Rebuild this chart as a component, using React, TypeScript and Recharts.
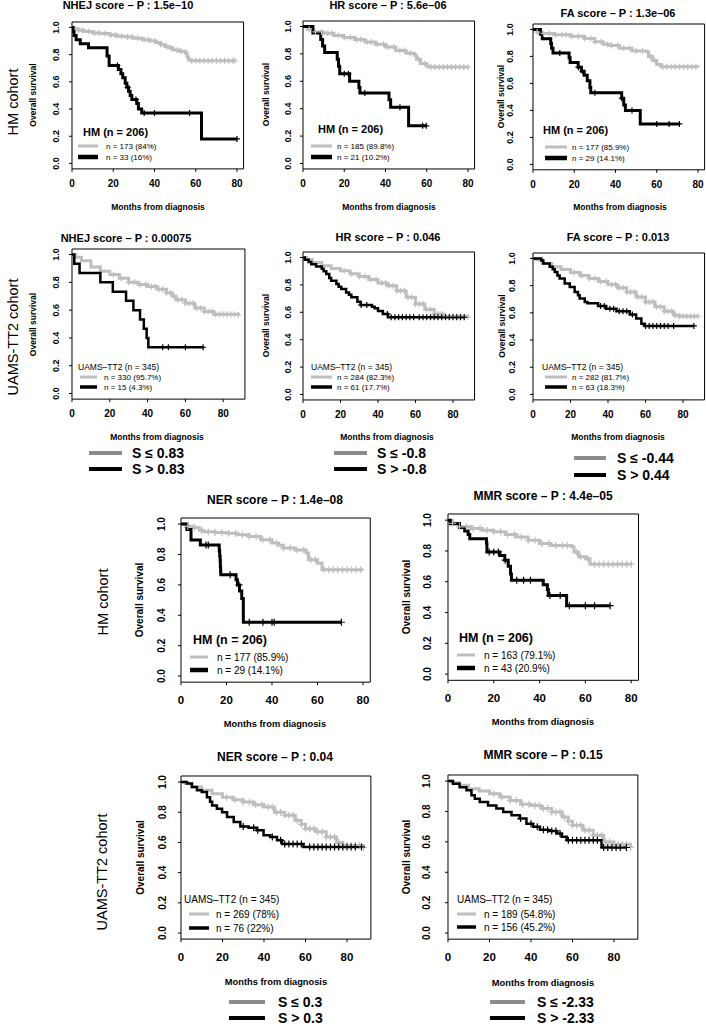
import React from "react";
import { LineChart, Line, XAxis, YAxis, ReferenceArea } from "recharts";

type Pt = [number, number];

const xTicks = [0, 20, 40, 60, 80];
const yTicks = [0, 0.2, 0.4, 0.6, 0.8, 1];

// ---- HM cohort ----
const nhejHmLow: Pt[] = [[0, 1], [1, 0.99], [3, 0.98], [6, 0.97], [10, 0.96], [14, 0.955], [18, 0.945], [22, 0.935], [26, 0.93], [30, 0.92], [34, 0.91], [38, 0.9], [41, 0.89], [43, 0.875], [45, 0.86], [47, 0.85], [49, 0.835], [52, 0.825], [55, 0.81], [55.8, 0.785], [56.5, 0.76], [58, 0.755], [79, 0.755]];
const nhejHmHigh: Pt[] = [[0, 1], [0.5, 0.97], [1, 0.94], [2, 0.91], [4, 0.88], [8, 0.85], [17, 0.79], [18, 0.72], [22.5, 0.69], [23.7, 0.66], [24.6, 0.63], [25.8, 0.59], [26.6, 0.56], [27.4, 0.53], [28.2, 0.5], [29, 0.47], [31.4, 0.44], [32.2, 0.4], [33.8, 0.37], [62.8, 0.18], [80, 0.18]];
const nhejHmLowCens = [3, 5, 8, 11, 13, 16, 19, 21, 24, 27, 29, 32, 35, 37, 40, 43, 46, 48, 51, 53, 58, 60, 62, 64, 66, 68, 70, 72, 74, 76, 78, 79];
const nhejHmHighCens = [22, 27, 31, 35, 40, 57, 80];

const hrHmLow: Pt[] = [[0, 1], [2, 0.98], [5, 0.96], [10, 0.95], [15, 0.935], [20, 0.92], [25, 0.905], [30, 0.886], [35, 0.87], [40, 0.85], [45, 0.825], [50, 0.805], [54, 0.79], [55, 0.76], [57, 0.73], [60, 0.71], [61, 0.705], [80, 0.705]];
const hrHmHigh: Pt[] = [[0, 1], [4.8, 0.952], [8.6, 0.905], [9.5, 0.857], [10.5, 0.81], [16.6, 0.76], [17.2, 0.71], [17.8, 0.655], [22.6, 0.6], [27.1, 0.555], [27.6, 0.515], [41.7, 0.465], [42.5, 0.41], [51.2, 0.275], [59.8, 0.275]];
const hrHmLowCens = [3, 6, 9, 12, 14, 17, 20, 23, 26, 28, 31, 33, 36, 39, 41, 44, 47, 49, 52, 56, 59, 62, 64, 66, 68, 70, 72, 74, 76, 78, 80];
const hrHmHighCens = [20, 22, 30, 47, 58, 59.8];

const faHmLow: Pt[] = [[0, 1], [2, 0.98], [4, 0.97], [10, 0.96], [18, 0.95], [25, 0.933], [30, 0.908], [34, 0.89], [37, 0.88], [42, 0.86], [48, 0.84], [55, 0.834], [56, 0.8], [58, 0.77], [60, 0.74], [62, 0.723], [80, 0.72]];
const faHmHigh: Pt[] = [[0, 1], [3.6, 0.965], [4.5, 0.93], [8.6, 0.895], [9, 0.86], [9.7, 0.825], [17.5, 0.79], [18, 0.755], [21.9, 0.72], [23.5, 0.69], [24.8, 0.66], [26.3, 0.62], [27.6, 0.57], [28, 0.53], [43, 0.49], [44, 0.44], [44.8, 0.4], [52, 0.3], [71, 0.3]];
const faHmLowCens = [2, 5, 8, 11, 14, 16, 19, 22, 25, 28, 30, 33, 36, 38, 41, 44, 47, 50, 53, 57, 59, 63, 65, 67, 69, 71, 73, 75, 77, 79];
const faHmHighCens = [13, 22, 24, 30, 43, 48, 60, 66, 71];

const nerHmLow: Pt[] = [[0, 1], [2, 0.985], [5, 0.978], [8, 0.96], [10, 0.95], [15, 0.945], [20, 0.94], [25, 0.93], [30, 0.918], [35, 0.897], [40, 0.875], [43, 0.86], [45, 0.842], [50, 0.83], [55, 0.81], [56, 0.765], [60, 0.743], [62, 0.7], [80, 0.7]];
const nerHmHigh: Pt[] = [[0, 1], [2.6, 0.965], [4.4, 0.896], [8.5, 0.862], [16.8, 0.827], [17, 0.79], [17.2, 0.76], [17.3, 0.72], [17.4, 0.69], [17.5, 0.666], [24.2, 0.633], [24.8, 0.6], [25.7, 0.56], [26.7, 0.51], [27.4, 0.354], [70.5, 0.354]];
const nerHmLowCens = [3, 6, 9, 12, 15, 18, 21, 24, 27, 30, 33, 36, 39, 42, 45, 48, 51, 54, 57, 59, 63, 65, 67, 69, 71, 73, 75, 77, 79];
const nerHmHighCens = [11, 12, 21.6, 25.5, 30, 36, 40, 41, 70.5];

const mmrHmLow: Pt[] = [[0, 1], [2, 0.98], [5, 0.957], [10, 0.946], [15, 0.935], [20, 0.924], [25, 0.907], [30, 0.89], [35, 0.87], [40, 0.848], [45, 0.835], [54, 0.827], [55, 0.794], [57, 0.762], [60, 0.75], [62, 0.714], [80, 0.714]];
const mmrHmHigh: Pt[] = [[0, 1], [1, 0.977], [5, 0.953], [7.3, 0.93], [8.8, 0.907], [9.5, 0.88], [16.8, 0.85], [17, 0.794], [22.6, 0.77], [24.8, 0.74], [26.3, 0.7], [27.3, 0.65], [27.7, 0.61], [41.6, 0.58], [43.4, 0.55], [43.8, 0.51], [51.8, 0.445], [70.8, 0.445]];
const mmrHmLowCens = [2, 5, 8, 11, 14, 17, 20, 23, 26, 29, 32, 35, 38, 41, 44, 47, 50, 52, 56, 58, 61, 64, 66, 68, 70, 72, 74, 76, 78, 80];
const mmrHmHighCens = [18, 20, 22, 25, 30, 33, 36, 44.5, 49, 53, 60, 64, 70.8];

// ---- UAMS-TT2 cohort ----
const uamsLowCens = [22, 26, 30, 33, 36, 39, 42, 44, 46, 48, 50, 52, 54, 56, 58, 60, 62, 64, 66, 68, 70, 72, 74, 76, 78, 80, 82, 84, 86, 88];

const nhejUaLow: Pt[] = [[0, 1], [2, 0.98], [5, 0.955], [10, 0.91], [15, 0.88], [20, 0.856], [25, 0.83], [30, 0.8], [35, 0.785], [40, 0.77], [45, 0.75], [50, 0.725], [53, 0.7], [55, 0.675], [60, 0.65], [65, 0.615], [70, 0.59], [75, 0.57], [88, 0.565]];
const nhejUaHigh: Pt[] = [[0, 1], [1.2, 0.933], [4, 0.867], [15, 0.8], [21.6, 0.733], [28.6, 0.667], [32.5, 0.6], [36, 0.533], [38, 0.467], [39.5, 0.4], [40.4, 0.333], [69.4, 0.333]];
const nhejUaHighCens = [48, 51, 60, 69.4];

const hrUaLow: Pt[] = [[0, 1], [2, 0.985], [5, 0.963], [10, 0.94], [15, 0.92], [20, 0.903], [25, 0.882], [30, 0.862], [35, 0.84], [40, 0.813], [45, 0.794], [50, 0.757], [55, 0.709], [60, 0.66], [65, 0.62], [70, 0.587], [75, 0.57], [87, 0.565]];
const hrUaHigh: Pt[] = [[0, 1], [1, 0.984], [3, 0.967], [4.4, 0.951], [7, 0.934], [10, 0.918], [11, 0.9], [12.4, 0.879], [14, 0.85], [15, 0.83], [17.8, 0.806], [19, 0.787], [20.4, 0.77], [23, 0.745], [24.5, 0.728], [25.8, 0.71], [29, 0.677], [30.7, 0.653], [36.8, 0.64], [38.2, 0.629], [40, 0.61], [42.6, 0.587], [45.3, 0.563], [86, 0.563]];
const hrUaHighCens = [31, 34, 45, 47, 49, 51, 53, 55, 57, 59, 62, 64, 66, 68, 70, 72, 74, 76, 78, 80, 82, 84, 86];

const faUaLow: Pt[] = [[0, 1], [1, 0.99], [5, 0.963], [10, 0.939], [15, 0.918], [20, 0.897], [25, 0.875], [30, 0.853], [35, 0.83], [40, 0.808], [45, 0.784], [50, 0.754], [55, 0.717], [60, 0.68], [65, 0.644], [70, 0.612], [75, 0.582], [78, 0.575], [88, 0.575]];
const faUaHigh: Pt[] = [[0, 1], [4.4, 0.984], [5.5, 0.963], [8.9, 0.939], [10.5, 0.92], [11.6, 0.9], [13, 0.875], [14.2, 0.853], [16.9, 0.816], [19.6, 0.79], [22.2, 0.754], [24, 0.73], [24.9, 0.705], [27.6, 0.68], [29, 0.67], [34.7, 0.651], [39, 0.63], [44.5, 0.612], [51.6, 0.587], [55, 0.558], [57.8, 0.52], [59.6, 0.504], [85.8, 0.504]];
const faUaHighCens = [36, 38, 41, 43, 46, 48, 50, 53, 60, 62, 64, 66, 68, 70, 72, 75, 85.8];

const nerUaLow: Pt[] = [[0, 1], [2, 0.99], [5, 0.967], [10, 0.945], [15, 0.923], [20, 0.9], [25, 0.883], [30, 0.867], [35, 0.85], [40, 0.834], [45, 0.8], [50, 0.78], [55, 0.746], [58, 0.72], [60, 0.69], [65, 0.67], [70, 0.636], [75, 0.6], [78, 0.58], [88, 0.565]];
const nerUaHigh: Pt[] = [[0, 1], [2.9, 0.99], [5.3, 0.967], [7.7, 0.945], [10, 0.934], [12.5, 0.9], [14, 0.87], [15, 0.845], [17.3, 0.823], [19.8, 0.8], [22.2, 0.768], [25.4, 0.735], [28.6, 0.706], [32.6, 0.698], [36.6, 0.68], [39.8, 0.647], [43, 0.636], [46.3, 0.614], [48.7, 0.59], [59, 0.57], [87, 0.57]];
const nerUaHighCens = [30, 35, 37, 44, 48, 50, 52, 54, 56, 58, 62, 64, 66, 68, 70, 72, 74, 76, 78, 80, 82, 84, 87];

const mmrUaLow: Pt[] = [[0, 1], [2, 0.99], [5.6, 0.972], [10, 0.95], [15, 0.935], [20, 0.917], [25, 0.895], [30, 0.873], [35, 0.847], [40, 0.84], [45, 0.819], [50, 0.797], [55, 0.764], [58, 0.735], [60, 0.71], [65, 0.677], [70, 0.644], [75, 0.6], [80, 0.585], [88, 0.565]];
const mmrUaHigh: Pt[] = [[0, 1], [2.4, 0.983], [5.6, 0.96], [8.9, 0.94], [11.3, 0.906], [12.9, 0.884], [15.3, 0.862], [19.3, 0.84], [23.3, 0.82], [26.6, 0.797], [30.6, 0.775], [34.6, 0.753], [37.8, 0.72], [41, 0.7], [44.3, 0.68], [48.3, 0.672], [52.3, 0.655], [54.8, 0.633], [57.2, 0.611], [74, 0.563], [86, 0.563]];
const mmrUaHighCens = [35, 40, 43, 46, 48, 50, 52, 54, 58, 60, 62, 64, 66, 68, 70, 72, 75, 77, 79, 81, 83, 86];

const cohortLabels = [
  { text: "HM cohort", x: 13, y: 102 },
  { text: "UAMS-TT2 cohort", x: 13, y: 337 },
  { text: "HM cohort", x: 103, y: 602 },
  { text: "UAMS-TT2 cohort", x: 102, y: 872 },
];

const cutoffs = [
  { low: "S ≤ 0.83", high: "S > 0.83", lx1: 89, lx2: 122, tx: 132, y1: 453, y2: 469 },
  { low: "S ≤ -0.8", high: "S > -0.8", lx1: 334, lx2: 367, tx: 377, y1: 453, y2: 469 },
  { low: "S ≤ -0.44", high: "S > 0.44", lx1: 574, lx2: 606, tx: 617, y1: 458, y2: 475 },
  { low: "S ≤ 0.3", high: "S > 0.3", lx1: 229, lx2: 265, tx: 278, y1: 1002, y2: 1018 },
  { low: "S ≤ -2.33", high: "S > -2.33", lx1: 490, lx2: 525, tx: 537, y1: 1002, y2: 1018 },
];

const FONT = "'Liberation Sans', Arial, Helvetica, sans-serif";
const GRAY = "#bebebe";

const small = { tickFs: 10, yTickFs: 9, xLabDy: 14.5, xlabFs: 8.5, ylabFs: 8.5, titleFs: 11, lwLow: 3, lwHigh: 3, cr: 3 };
const big = { tickFs: 11.5, yTickFs: 10, xLabDy: 18, xlabFs: 9.3, ylabFs: 10, titleFs: 12, lwLow: 3, lwHigh: 3, cr: 3.5 };

const panels = [
  { key: "p1", ...small, x0: 72, ppm: 2.0625, y1: 27, y0: 163, xmax: 83.2, yLabOff: 16, low: nhejHmLow, high: nhejHmHigh, lowCens: nhejHmLowCens, highCens: nhejHmHighCens,
    title: "NHEJ score – P : 1.5e–10", titleX: 128, titleY: 5, xlabX: 158, xlabY: 207, ylabX: 33,
    leg: { header: "HM (n = 206)", bold: true, hfs: 11, hx: 83, hy: 132, lx1: 78, lx2: 98, tx: 106, gy: 146, by: 157, fs: 8, lowText: "n = 173 (84%)", highText: "n = 33 (16%)" } },
  { key: "p2", ...small, x0: 303, ppm: 2.0625, y1: 26, y0: 163, xmax: 83.2, yLabOff: 15, low: hrHmLow, high: hrHmHigh, lowCens: hrHmLowCens, highCens: hrHmHighCens,
    title: "HR score – P : 5.6e–06", titleX: 388, titleY: 5, xlabX: 389, xlabY: 207, ylabX: 266,
    leg: { header: "HM (n = 206)", bold: true, hfs: 11, hx: 318, hy: 129, lx1: 311, lx2: 332, tx: 337, gy: 146, by: 157, fs: 8, lowText: "n = 185 (89.8%)", highText: "n = 21 (10.2%)" } },
  { key: "p3", ...small, x0: 533, ppm: 2.0625, y1: 29, y0: 164, xmax: 83.2, yLabOff: 23, low: faHmLow, high: faHmHigh, lowCens: faHmLowCens, highCens: faHmHighCens,
    title: "FA score – P : 1.3e–06", titleX: 618, titleY: 13, xlabX: 620, xlabY: 207, ylabX: 501,
    leg: { header: "HM (n = 206)", bold: true, hfs: 11, hx: 543, hy: 130, lx1: 545, lx2: 567, tx: 572, gy: 147, by: 158, fs: 8, lowText: "n = 177 (85.9%)", highText: "n = 29 (14.1%)" } },
  { key: "p4", ...small, lwHigh: 2.5, x0: 72, ppm: 1.89, y1: 255, y0: 394, xmax: 91.5, yLabOff: 16, low: nhejUaLow, high: nhejUaHigh, lowCens: uamsLowCens, highCens: nhejUaHighCens,
    title: "NHEJ score – P : 0.00075", titleX: 126, titleY: 238, xlabX: 157, xlabY: 437, ylabX: 33,
    leg: { header: "UAMS–TT2 (n = 345)", bold: false, hfs: 8.5, hx: 78, hy: 367, lx1: 80, lx2: 97, tx: 104, gy: 377, by: 387, fs: 8, lowText: "n = 330 (95.7%)", highText: "n = 15 (4.3%)" } },
  { key: "p5", ...small, lwHigh: 2.5, x0: 303, ppm: 1.875, y1: 257, y0: 394, xmax: 91.5, yLabOff: 15, low: hrUaLow, high: hrUaHigh, lowCens: uamsLowCens, highCens: hrUaHighCens,
    title: "HR score – P : 0.046", titleX: 388, titleY: 237, xlabX: 387, xlabY: 437, ylabX: 266,
    leg: { header: "UAMS–TT2 (n = 345)", bold: false, hfs: 8.5, hx: 311, hy: 367, lx1: 311, lx2: 332, tx: 337, gy: 377, by: 387, fs: 8, lowText: "n = 284 (82.3%)", highText: "n = 61 (17.7%)" } },
  { key: "p6", ...small, lwHigh: 2.5, x0: 533, ppm: 1.875, y1: 258, y0: 394, xmax: 91.5, yLabOff: 21, low: faUaLow, high: faUaHigh, lowCens: uamsLowCens, highCens: faUaHighCens,
    title: "FA score – P : 0.013", titleX: 618, titleY: 237, xlabX: 618, xlabY: 437, ylabX: 502,
    leg: { header: "UAMS–TT2 (n = 345)", bold: false, hfs: 8.5, hx: 542, hy: 367, lx1: 545, lx2: 567, tx: 572, gy: 377, by: 387, fs: 8, lowText: "n = 282 (81.7%)", highText: "n = 63 (18.3%)" } },
  { key: "p7", ...big, x0: 181, ppm: 2.275, y1: 524, y0: 676, xmax: 83.2, yLabOff: 19, low: nerHmLow, high: nerHmHigh, lowCens: nerHmLowCens, highCens: nerHmHighCens,
    title: "NER score – P : 1.4e–08", titleX: 275, titleY: 500, xlabX: 275, xlabY: 724, ylabX: 139,
    leg: { header: "HM (n = 206)", bold: true, hfs: 12.5, hx: 193, hy: 640, lx1: 190, lx2: 208, tx: 217, gy: 657, by: 670, fs: 10, lowText: "n = 177 (85.9%)", highText: "n = 29 (14.1%)" } },
  { key: "p8", ...big, x0: 448, ppm: 2.29, y1: 520, y0: 674, xmax: 83.2, yLabOff: 20, low: mmrHmLow, high: mmrHmHigh, lowCens: mmrHmLowCens, highCens: mmrHmHighCens,
    title: "MMR score – P : 4.4e–05", titleX: 543, titleY: 496, xlabX: 543, xlabY: 722, ylabX: 406,
    leg: { header: "HM (n = 206)", bold: true, hfs: 12.5, hx: 459, hy: 638, lx1: 457, lx2: 475, tx: 484, gy: 655, by: 668, fs: 10, lowText: "n = 163 (79.1%)", highText: "n = 43 (20.9%)" } },
  { key: "p9", ...big, lwHigh: 2.5, x0: 181, ppm: 2.075, y1: 782, y0: 933, xmax: 91.5, yLabOff: 18, low: nerUaLow, high: nerUaHigh, lowCens: uamsLowCens, highCens: nerUaHighCens,
    title: "NER score – P : 0.04", titleX: 275, titleY: 757, xlabX: 276, xlabY: 982, ylabX: 140,
    leg: { header: "UAMS–TT2 (n = 345)", bold: false, hfs: 10, hx: 184, hy: 899, lx1: 189, lx2: 209, tx: 216, gy: 914, by: 928, fs: 10, lowText: "n = 269 (78%)", highText: "n = 76 (22%)" } },
  { key: "p10", ...big, lwHigh: 2.5, x0: 448, ppm: 2.075, y1: 781, y0: 933, xmax: 91.5, yLabOff: 21, low: mmrUaLow, high: mmrUaHigh, lowCens: uamsLowCens, highCens: mmrUaHighCens,
    title: "MMR score – P : 0.15", titleX: 543, titleY: 755, xlabX: 543, xlabY: 983, ylabX: 406,
    leg: { header: "UAMS–TT2 (n = 345)", bold: false, hfs: 10, hx: 457, hy: 899, lx1: 457, lx2: 476, tx: 484, gy: 914, by: 927, fs: 10, lowText: "n = 189 (54.8%)", highText: "n = 156 (45.2%)" } },
];

type Panel = (typeof panels)[number];

const ML = 40;
const MT = 4;
const MR = 4;
const MB = 26;

const survAt = (curve: Pt[], t: number) => {
  let s = curve[0][1];
  for (const [ct, cs] of curve) {
    if (ct <= t) s = cs;
    else break;
  }
  return s;
};

const rows = (curve: Pt[]) => curve.map(([t, s]) => ({ t, s }));
const censRows = (curve: Pt[], cens: number[]) => cens.map((t) => ({ t, s: survAt(curve, t) }));

const plus = (color: string, r: number) => (props: any) => {
  const { cx, cy, index } = props;
  if (cx == null || cy == null) return <g key={`n${index}`} />;
  return (
    <path key={`c${index}`} d={`M${cx - r},${cy}H${cx + r}M${cx},${cy - r}V${cy + r}`} stroke={color} strokeWidth={1.2} fill="none" />
  );
};

function KmPanel({ p }: { p: Panel }) {
  const unit = p.y0 - p.y1;
  const plotW = p.xmax * p.ppm;
  const plotH = unit * 1.08;
  const width = ML + plotW + MR;
  const height = MT + plotH + MB;
  const left = p.x0 - ML;
  const top = p.y1 - unit * 0.04 - MT;

  const xTick = (props: any) => (
    <text key={`x${props.index}`} x={props.x} y={MT + plotH + p.xLabDy} textAnchor="middle" dominantBaseline="central"
      fontFamily={FONT} fontWeight="bold" fontSize={p.tickFs} fill="#000">
      {props.payload.value}
    </text>
  );
  const yTick = (props: any) => {
    const tx = ML - p.yLabOff;
    return (
      <text key={`y${props.index}`} x={tx} y={props.y} transform={`rotate(-90 ${tx} ${props.y})`} textAnchor="middle"
        dominantBaseline="central" fontFamily={FONT} fontWeight="bold" fontSize={p.yTickFs} fill="#000">
        {Number(props.payload.value).toFixed(1)}
      </text>
    );
  };

  return (
    <div style={{ position: "absolute", left, top }}>
      <LineChart width={width} height={height} margin={{ top: MT, right: MR, left: 0, bottom: 0 }}>
        <XAxis type="number" dataKey="t" domain={[0, p.xmax]} ticks={xTicks} interval={0} allowDataOverflow
          height={MB} tickSize={3} axisLine={false} tickLine={{ stroke: "#000" }} tick={xTick} />
        <YAxis type="number" dataKey="s" domain={[-0.04, 1.04]} ticks={yTicks} interval={0} allowDataOverflow
          width={ML} tickSize={3} axisLine={false} tickLine={{ stroke: "#000" }} tick={yTick} />
        <ReferenceArea x1={0} x2={p.xmax} y1={-0.04} y2={1.04} fill="none" stroke="#000" strokeWidth={1} ifOverflow="visible" />
        <Line data={rows(p.low)} dataKey="s" type="stepAfter" stroke={GRAY} strokeWidth={p.lwLow} dot={false} activeDot={false} isAnimationActive={false} />
        <Line data={censRows(p.low, p.lowCens)} dataKey="s" stroke="none" dot={plus(GRAY, p.cr)} activeDot={false} isAnimationActive={false} />
        <Line data={rows(p.high)} dataKey="s" type="stepAfter" stroke="#000" strokeWidth={p.lwHigh} dot={false} activeDot={false} isAnimationActive={false} />
        <Line data={censRows(p.high, p.highCens)} dataKey="s" stroke="none" dot={plus("#000", p.cr)} activeDot={false} isAnimationActive={false} />
      </LineChart>
    </div>
  );
}

function PanelText({ p }: { p: Panel }) {
  const midY = (p.y1 + p.y0) / 2;
  const l = p.leg;
  return (
    <g>
      <text x={p.titleX} y={p.titleY} textAnchor="middle" dominantBaseline="central" fontWeight="bold" fontSize={p.titleFs}>{p.title}</text>
      <text x={p.xlabX} y={p.xlabY} textAnchor="middle" dominantBaseline="central" fontWeight="bold" fontSize={p.xlabFs}>Months from diagnosis</text>
      <text x={p.ylabX} y={midY} transform={`rotate(-90 ${p.ylabX} ${midY})`} textAnchor="middle" dominantBaseline="central" fontWeight="bold" fontSize={p.ylabFs}>Overall survival</text>
      <text x={l.hx} y={l.hy} dominantBaseline="central" fontWeight={l.bold ? "bold" : "normal"} fontSize={l.hfs}>{l.header}</text>
      <line x1={l.lx1} x2={l.lx2} y1={l.gy} y2={l.gy} stroke={GRAY} strokeWidth={3} />
      <line x1={l.lx1} x2={l.lx2} y1={l.by} y2={l.by} stroke="#000" strokeWidth={l.bold ? 4.5 : 3.5} />
      <text x={l.tx} y={l.gy} dominantBaseline="central" fontSize={l.fs}>{l.lowText}</text>
      <text x={l.tx} y={l.by} dominantBaseline="central" fontSize={l.fs}>{l.highText}</text>
    </g>
  );
}

export default function App() {
  return (
    <div style={{ position: "absolute", left: 0, top: 0, width: 706, height: 1027, background: "#fff", overflow: "hidden" }}>
      {panels.map((p) => (
        <KmPanel key={p.key} p={p} />
      ))}
      <svg width={706} height={1027} style={{ position: "absolute", left: 0, top: 0, pointerEvents: "none" }} fontFamily={FONT} fill="#000">
        {cohortLabels.map((c, i) => (
          <text key={i} x={c.x} y={c.y} transform={`rotate(-90 ${c.x} ${c.y})`} textAnchor="middle" dominantBaseline="central" fontSize={14.5}>
            {c.text}
          </text>
        ))}
        {panels.map((p) => (
          <PanelText key={p.key} p={p} />
        ))}
        {cutoffs.map((c, i) => (
          <g key={i}>
            <line x1={c.lx1} x2={c.lx2} y1={c.y1} y2={c.y1} stroke="#8c8c8c" strokeWidth={4} />
            <line x1={c.lx1} x2={c.lx2} y1={c.y2} y2={c.y2} stroke="#000" strokeWidth={4} />
            <text x={c.tx} y={c.y1} dominantBaseline="central" fontWeight="bold" fontSize={14}>{c.low}</text>
            <text x={c.tx} y={c.y2} dominantBaseline="central" fontWeight="bold" fontSize={14}>{c.high}</text>
          </g>
        ))}
      </svg>
    </div>
  );
}
